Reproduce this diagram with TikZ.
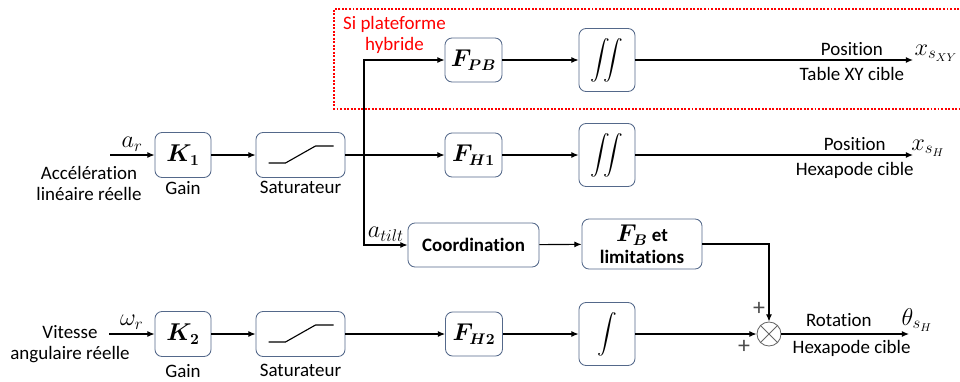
\documentclass[tikz,border=0pt]{standalone}
\usepackage{amsmath,amssymb}
\usepackage{bm}
\usepackage{fontspec}
\setmainfont{Carlito}[Ligatures=CommonOff]
\usepackage{xcolor}
\usetikzlibrary{arrows.meta,positioning}
\definecolor{boxline}{RGB}{84,104,138}
\definecolor{hybred}{RGB}{255,0,0}

\begin{document}
\begin{tikzpicture}[x=2.5mm,y=-2.5mm,font=\fontsize{13.5}{15.5}\selectfont,
  blk/.style={draw=boxline,line width=0.6pt,rounded corners=5pt,fill=white,align=center,inner sep=2pt},
  gainbox/.style={blk,minimum width=1.4cm,minimum height=1.125cm,font=\fontsize{16}{18}\selectfont},
  satbox/.style={blk,minimum width=2.225cm,minimum height=1.125cm},
  filt/.style={blk,minimum width=1.425cm,minimum height=1.1cm,font=\fontsize{16}{18}\selectfont},
  intbox/.style={blk,minimum width=1.4cm,minimum height=1.575cm,font=\fontsize{14}{16}\selectfont},
  arr/.style={-{Latex[length=1.8mm,width=1.5mm]},line width=0.8pt},
  lab/.style={inner sep=1pt,align=center},
  sig/.style={inner sep=1pt,font=\fontsize{17}{19}\selectfont},
  plus/.style={inner sep=0pt,text=black!70,font=\fontsize{17}{19}\selectfont}]
\useasboundingbox (0,0) rectangle (96,38.1);
% hybrid platform zone
\draw[hybred,line width=1.3pt,dash pattern=on 1.4pt off 1.1pt] (95.9,0.9) -| (33.4,10.9) -- (95.9,10.9);
\node[lab,text=hybred] (hyb) at (39.45,3.5) {Si plateforme\\hybride};
% blocks
\node[gainbox] (k1)    at (18.3,15.5)  {$\bm{K_1}$};
\node[satbox]  (sat1)  at (30.05,15.5) {};
\node[filt]    (fpb)   at (47.35,6.0)  {$\bm{F_{PB}}$};
\node[intbox]  (int1)  at (60.7,6.0)   {$\displaystyle\iint$};
\node[filt]    (fh1)   at (47.35,15.5) {$\bm{F_{H1}}$};
\node[intbox]  (int2)  at (60.7,15.5)  {$\displaystyle\iint$};
\node[blk,minimum width=3.275cm,minimum height=1.1cm] (coord) at (47.35,24.5) {\textbf{Coordination}};
\node[blk,minimum width=3cm,minimum height=1.25cm] (fb) at (64.2,24.4) {{\fontsize{16}{18}\selectfont$\bm{F_B}$} \textbf{et}\\\textbf{limitations}};
\node[gainbox] (k2)    at (18.3,33.4)  {$\bm{K_2}$};
\node[satbox]  (sat2)  at (30.05,33.4) {};
\node[filt]    (fh2)   at (47.4,33.4)  {$\bm{F_{H2}}$};
\node[intbox]  (int3)  at (60.7,33.4)  {$\displaystyle\int$};
\node[circle,draw=black!60,line width=0.6pt,minimum size=0.6cm,inner sep=0pt] (sum) at (76.9,33.4) {};
\draw[black!60,line width=0.6pt] (sum.north west) -- (sum.south east) (sum.north east) -- (sum.south west);
% saturation curves
\foreach \s in {sat1,sat2}
  \draw[line width=0.8pt] ([shift={(-3.2,0.8)}]\s.center) -- ++(1.7,0) -- ++(3,-1.7) -- ++(1.8,0);
% captions
\node[lab,below=1pt of k1]   (gain1) {Gain};
\node[lab,below=1pt of sat1] (satl1) {Saturateur};
\node[lab,below=4pt of k2]   (gain2) {Gain};
\node[lab,below=4pt of sat2] (satl2) {Saturateur};
\node[lab] (acc) at (8.9,18.35) {Accélération\\linéaire réelle};
\node[lab] (vit) at (7.0,34.4) {Vitesse\\angulaire réelle};
% free ends
\coordinate (in1)   at (11,15.5);
\coordinate (in2)   at (10.9,33.4);
\coordinate (split) at (36.4,15.5);
\coordinate (endxy) at (91.3,6.0);
\coordinate (endh)  at (91.3,15.5);
\coordinate (endr)  at (90.9,33.4);
\node[sig] (xsxy) at (93.6,5.3)  {$x_{s_{XY}}$};
\node[sig] (xsh)  at (92.8,14.8) {$x_{s_H}$};
\node[sig] (thsh) at (91.7,32.0) {$\theta_{s_H}$};
% signal path
\draw[arr] (in1) -- node[sig,above=1pt]{$a_r$} (k1);
\draw[arr] (k1) -- (sat1);
\draw[arr] (sat1) -- (fh1);
\draw[arr] (split) |- (fpb);
\draw[arr] (split) |- node[sig,pos=0.75,above=1pt]{$a_{tilt}$} (coord);
\draw[arr] (fpb) -- (int1);
\draw[arr] (fh1) -- (int2);
\draw[arr] (coord) -- (fb);
\draw[arr] (int1) -- node[lab,pos=0.78,above=2pt]{Position} node[lab,pos=0.78,below=4pt]{Table XY cible} (endxy);
\draw[arr] (int2) -- node[lab,pos=0.79,above=2pt]{Position} node[lab,pos=0.79,below=4pt]{Hexapode cible} (endh);
\draw[arr] (in2) -- node[sig,above=2pt]{$\omega_r$} (k2);
\draw[arr] (k2) -- (sat2);
\draw[arr] (sat2) -- (fh2);
\draw[arr] (fh2) -- (int3);
\draw[arr] (int3) -- (sum);
\draw[arr] (fb) -| (sum);
\draw[arr] (sum) -- node[lab,pos=0.45,above=4pt]{Rotation} node[lab,pos=0.55,below=3pt]{Hexapode cible} (endr);
\node[plus] (plus1) at (75.9,30.9) {+};
\node[plus] (plus2) at (74.4,34.7) {+};
\end{tikzpicture}
\end{document}
